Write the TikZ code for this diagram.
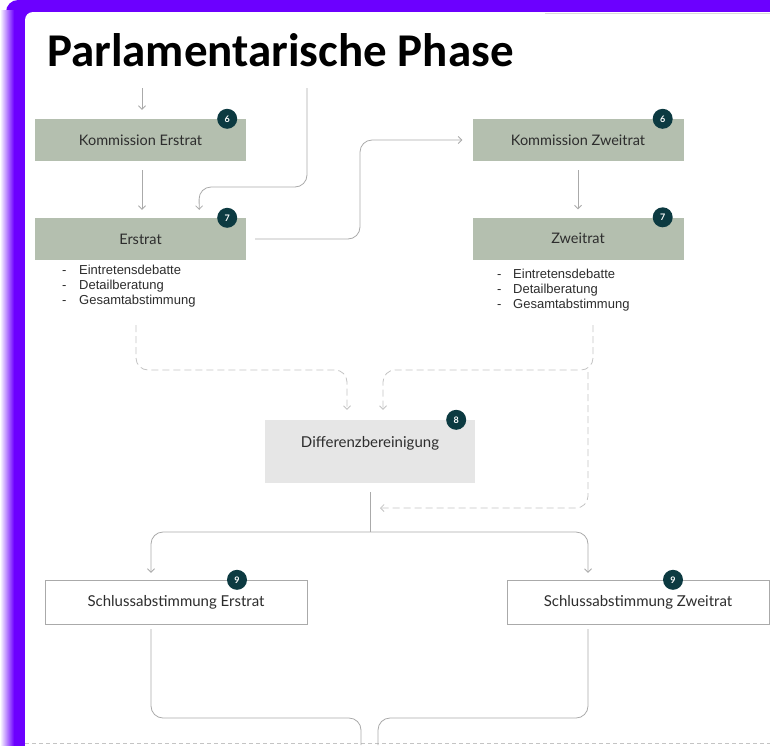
\documentclass[tikz,border=0pt]{standalone}
\usepackage{fontspec}
\setmainfont{Lato}
\newfontfamily\titlefont{Carlito}
\newfontfamily\listfont{Liberation Sans}
\usetikzlibrary{arrows.meta,positioning}

\definecolor{frameviolet}{RGB}{108,0,255}
\definecolor{sage}{RGB}{180,191,175}
\definecolor{badgeteal}{RGB}{12,58,65}
\definecolor{diffgrey}{RGB}{230,230,230}
\definecolor{linegrey}{RGB}{170,170,170}
\definecolor{dashgrey}{RGB}{196,196,196}
\definecolor{textgrey}{RGB}{45,45,45}

\begin{document}
\begin{tikzpicture}[
      x=1pt, y=-1pt,
      box/.style={
          rectangle,
          inner sep=0pt,
          text=textgrey,
          font=\fontsize{14.5pt}{17pt}\selectfont
      },
      greenbox/.style={box, fill=sage, minimum width=211pt, minimum height=42pt},
      greybox/.style={box, fill=diffgrey, minimum width=210pt, minimum height=63pt,
          text height=9pt, text depth=18pt, font=\fontsize{15pt}{18pt}\selectfont},
      whitebox/.style={box, draw=linegrey, fill=white, minimum width=262pt, minimum height=44pt,
          font=\fontsize{15pt}{18pt}\selectfont},
      badge/.style={circle, fill=badgeteal, inner sep=0pt, minimum size=20pt,
          text=white, font=\fontsize{9pt}{10pt}\selectfont\bfseries},
      listtext/.style={inner sep=0pt, anchor=base west, text=textgrey,
          font=\listfont\fontsize{13pt}{15pt}\selectfont},
      arrow/.style={-{Straight Barb[length=3.5pt,width=7pt]}, line width=0.8pt, draw=linegrey,
          rounded corners=12pt},
      dasharrow/.style={arrow, draw=dashgrey, dash pattern=on 7pt off 4pt}
  ]
      \useasboundingbox (0,0) rectangle (770,745);

      % Frame
      \fill[frameviolet, rounded corners=12pt] (6,0) rectangle (800,780);
      \shade[left color=white, right color=frameviolet] (0,10) rectangle (14,745);
      \fill[white, rounded corners=8pt] (25,12) rectangle (800,780);
      \draw[gray!30, line width=1pt] (545,13) -- (770,13);
      \draw[dashgrey, line width=0.8pt, dash pattern=on 4pt off 3pt] (25,743) -- (770,743);

      \node[anchor=base west, inner sep=0pt, font=\titlefont\bfseries\fontsize{47pt}{50pt}\selectfont] (title) at (47,66) {Parlamentarische Phase};

      % Nodes
      \node[greenbox] (komE) at (140.5,140) {Kommission Erstrat};
      \node[greenbox] (erst) at (140.5,239) {Erstrat};
      \node[greenbox] (komZ) at (578,140) {Kommission Zweitrat};
      \node[greenbox] (zweit) at (578,238.5) {Zweitrat};
      \node[greybox] (diff) at (370,451.5) {Differenzbereinigung};
      \node[whitebox] (schlE) at (176,602) {Schlussabstimmung Erstrat};
      \node[whitebox] (schlZ) at (638,602) {Schlussabstimmung Zweitrat};

      % Badges
      \node[badge] (bKomE) at ([xshift=-19pt]komE.north east) {6};
      \node[badge] (bErst) at ([xshift=-19pt]erst.north east) {7};
      \node[badge] (bKomZ) at ([xshift=-21pt]komZ.north east) {6};
      \node[badge] (bZweit) at ([xshift=-21pt]zweit.north east) {7};
      \node[badge] (bDiff) at ([xshift=-19pt]diff.north east) {8};
      \node[badge] (bSchlE) at ([xshift=61pt]schlE.north) {9};
      \node[badge] (bSchlZ) at ([xshift=35pt]schlZ.north) {9};

      % Lists
      \node[listtext] (erstList) at (62,274) {\begin{tabular}[t]{@{}p{17pt}@{}l@{}}-&Eintretensdebatte\\-&Detailberatung\\-&Gesamtabstimmung\end{tabular}};
      \node[listtext] (zweitList) at (497,278) {\begin{tabular}[t]{@{}p{16pt}@{}l@{}}-&Eintretensdebatte\\-&Detailberatung\\-&Gesamtabstimmung\end{tabular}};

      % Free ends
      \coordinate (inA) at (142,88);
      \coordinate (inB) at (307,88);
      \coordinate (fromErstList) at (136,325);
      \coordinate (fromZweitList) at (593,325);
      \coordinate (backStart) at (588,372);
      \coordinate (backEnd) at (380,508);
      \coordinate (split) at (370,532);
      \coordinate (outA) at (361,745);
      \coordinate (outB) at (378,745);

      % Arrows
      \draw[arrow, shorten >=9pt] (inA) -- (komE.north -| inA);
      \draw[arrow, shorten <=9pt, shorten >=8pt] (komE.south -| inA) -- (erst.north -| inA);
      \draw[arrow] (inB) -- (307,187) -- (199,187) -- ([xshift=-47pt,yshift=8pt]erst.north east);
      \draw[arrow, shorten >=10pt] ([xshift=9pt]erst.east) -- (360,239) -- (360,140) -- (komZ.west);
      \draw[arrow, shorten <=9pt, shorten >=8pt] (komZ.south) -- (zweit.north);

      \draw[dasharrow] (fromErstList) -- (136,370) -- (347,370) -- ([xshift=-23pt,yshift=10pt]diff.north);
      \draw[dasharrow] (fromZweitList) -- (593,370) -- (383,370) -- ([xshift=13pt,yshift=10pt]diff.north);
      \draw[dasharrow] (backStart) -- (588,508) -- (backEnd);

      \draw[arrow, -, shorten <=9pt] (diff.south) -- (split);
      \draw[arrow, {Straight Barb[length=3.5pt,width=7pt]}-{Straight Barb[length=3.5pt,width=7pt]}]
          ([xshift=-25pt,yshift=7pt]schlE.north) -- (151,532) -- (588,532) -- ([xshift=-50pt,yshift=7pt]schlZ.north);

      \draw[arrow, -, shorten <=5pt] ([xshift=-25pt]schlE.south) -- (151,718) -- (361,718) -- (outA);
      \draw[arrow, -, shorten <=5pt] ([xshift=-50pt]schlZ.south) -- (588,718) -- (378,718) -- (outB);
  \end{tikzpicture}
\end{document}
